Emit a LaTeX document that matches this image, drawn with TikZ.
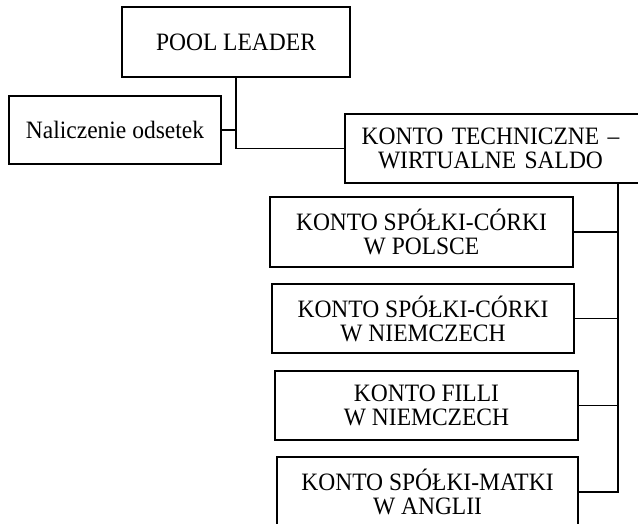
\documentclass[tikz,border=0pt]{standalone}
\usepackage{fontspec}
\setmainfont{Liberation Serif}[FakeStretch=0.94]
\begin{document}
\begin{tikzpicture}[x=1pt,y=-1pt,
  box/.style={draw=black, line width=1.3pt, fill=white, inner sep=0pt, outer sep=0pt,
    align=center, font=\fontsize{25}{24}\selectfont},
  conn/.style={draw=black, line width=1.3pt}]
\useasboundingbox (0,0) rectangle (638,524);
\clip (0,0) rectangle (638,524);
\fill[white] (0,0) rectangle (638,524);
\node[box, minimum width=228pt, minimum height=70pt] (pool) at (236,42) {POOL LEADER};
\node[box, minimum width=212pt, minimum height=68pt] (nal) at (115,130) {Naliczenie odsetek};
\node[box, minimum width=295pt, minimum height=69pt, text width=280pt] (tech) at (492.5,148.5) {\hspace*{-4pt}KONTO TECHNICZNE –\\\hspace*{-4pt}WIRTUALNE SALDO};
\node[box, minimum width=303pt, minimum height=70pt] (b1) at (421.5,232) {KONTO SPÓŁKI-CÓRKI\\W POLSCE};
\node[box, minimum width=302pt, minimum height=69pt] (b2) at (423,318.5) {KONTO SPÓŁKI-CÓRKI\\W NIEMCZECH};
\node[box, minimum width=303pt, minimum height=69pt] (b3) at (426.5,405.5) {KONTO FILLI\\W NIEMCZECH};
\node[box, minimum width=301pt, minimum height=70pt] (b4) at (427.5,492) {KONTO SPÓŁKI-MATKI\\W ANGLII};
\coordinate (bt) at (618,183);
\draw[conn] (pool.south) |- (tech.west);
\draw[conn] (nal.east) -- (nal.east -| pool.south);
\draw[conn] (bt) |- (b4.east);
\draw[conn] (b1.east) -- (b1.east -| bt);
\draw[conn] (b2.east) -- (b2.east -| bt);
\draw[conn] (b3.east) -- (b3.east -| bt);
\end{tikzpicture}
\end{document}
